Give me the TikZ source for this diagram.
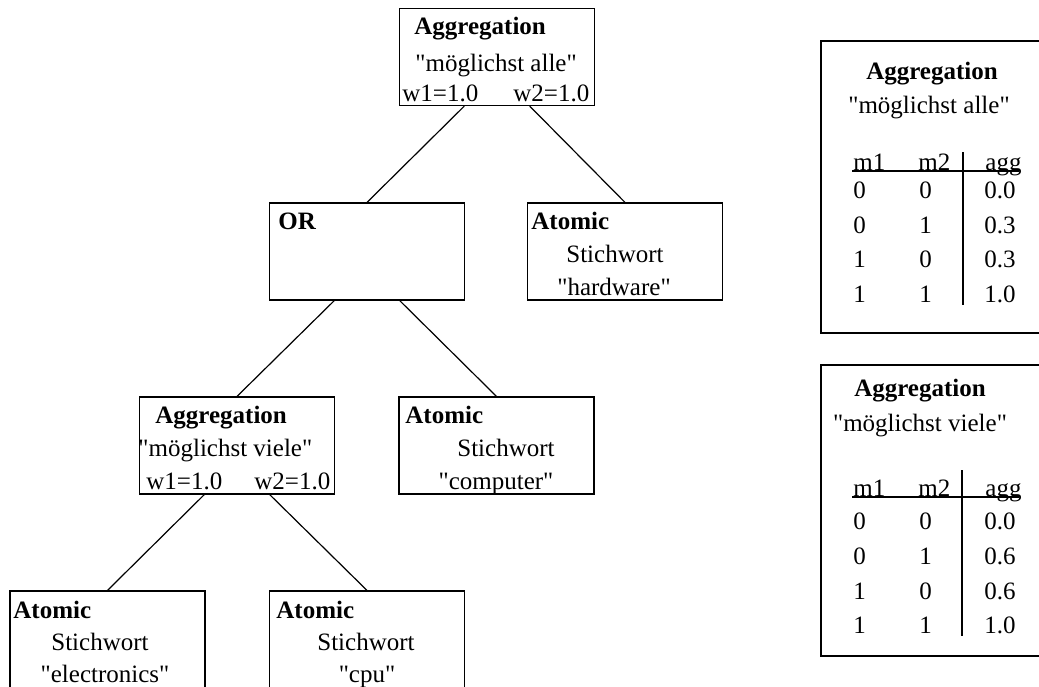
\documentclass[tikz,border=0pt]{standalone}
\usepackage{fontspec}
\setmainfont{Liberation Serif}
% family without TeX ligature mapping, so " stays a straight quote
\newfontfamily\plainserif{Liberation Serif}
\usetikzlibrary{calc}
\begin{document}
\begin{tikzpicture}[x=0.5pt,y=-0.5pt,
  font=\plainserif\fontsize{12.5}{15}\selectfont,
  box/.style={draw,line width=0.6pt,minimum width=97.5pt,minimum height=48.5pt,inner sep=0pt},
  panel/.style={draw,line width=0.6pt},
  txt/.style={inner sep=0pt,anchor=base west},
  ctxt/.style={inner sep=0pt,anchor=base},
  head/.style={txt,font=\plainserif\fontsize{12.5}{15}\selectfont\bfseries},
  chead/.style={ctxt,font=\plainserif\fontsize{12.5}{15}\selectfont\bfseries},
  edge/.style={line width=0.6pt}]
\useasboundingbox (0,0) rectangle (1039,686);

% tree boxes
\node[box] (top)  at (497,57)    {};
\node[box] (or)   at (367,251.5) {};
\node[box] (hw)   at (625,251.5) {};
\node[box] (agg)  at (237,445.5) {};
\node[box] (comp) at (496.5,445.5) {};
\node[box] (elec) at (107.5,639.5) {};
\node[box] (cpu)  at (367,639.5) {};

% top aggregation
\node[head] (topA) at (414,34) {Aggregation};
\node[txt]  (topB) at (415,71) {"möglichst alle"};
\node[txt]  (topC) at (402,101) {w1=1.0};
\node[txt]  (topD) at (513,101) {w2=1.0};

% OR
\node[head] (orA) at (278,229) {OR};

% atomic hardware
\node[head] (hwA) at (531,229) {Atomic};
\node[ctxt] (hwB) at (615,262) {Stichwort};
\node[ctxt] (hwC) at (614,295) {"hardware"};

% aggregation viele
\node[head] (aggA) at (155,423) {Aggregation};
\node[txt]  (aggB) at (138,456) {"möglichst viele"};
\node[txt]  (aggC) at (146,489) {w1=1.0};
\node[txt]  (aggD) at (254,489) {w2=1.0};

% atomic computer
\node[head] (compA) at (405,423) {Atomic};
\node[ctxt] (compB) at (506,456) {Stichwort};
\node[ctxt] (compC) at (496,489) {"computer"};

% atomic electronics
\node[head] (elecA) at (13,618) {Atomic};
\node[ctxt] (elecB) at (100,650) {Stichwort};
\node[ctxt] (elecC) at (105,682) {"electronics"};

% atomic cpu
\node[head] (cpuA) at (276,618) {Atomic};
\node[ctxt] (cpuB) at (366,650) {Stichwort};
\node[ctxt] (cpuC) at (367,682) {"cpu"};

% tree edges
\draw[edge] ($(top.south west)!1/3!(top.south east)$) -- (or.north);
\draw[edge] ($(top.south west)!2/3!(top.south east)$) -- (hw.north);
\draw[edge] ($(or.south west)!1/3!(or.south east)$) -- (agg.north);
\draw[edge] ($(or.south west)!2/3!(or.south east)$) -- (comp.north);
\draw[edge] ($(agg.south west)!1/3!(agg.south east)$) -- (elec.north);
\draw[edge] ($(agg.south west)!2/3!(agg.south east)$) -- (cpu.north);

% truth table: moeglichst alle
\draw[panel] (1045,41) -- (821,41) -- (821,333) -- (1045,333);
\node[chead] (t1A) at (932,79) {Aggregation};
\node[ctxt]  (t1B) at (929,113) {"möglichst alle"};
\node[txt] (t1h1) at (853,170) {m1};
\node[txt] (t1h2) at (918,170) {m2};
\node[txt] (t1h3) at (985,170) {agg};
\draw[edge] (852,171) -- (1019,171);
\draw[edge] (963,152) -- (963,305);
\foreach \a/\b/\c/\y/\n in {0/0/0.0/198/1,0/1/0.3/233/2,1/0/0.3/267/3,1/1/1.0/302/4}{
  \node[txt] (t1r\n a) at (853,\y) {\a};
  \node[txt] (t1r\n b) at (919,\y) {\b};
  \node[txt] (t1r\n c) at (984,\y) {\c};
}

% truth table: moeglichst viele
\draw[panel] (1045,365) -- (821,365) -- (821,656) -- (1045,656);
\node[chead] (t2A) at (920,396) {Aggregation};
\node[ctxt]  (t2B) at (920,431) {"möglichst viele"};
\node[txt] (t2h1) at (853,496) {m1};
\node[txt] (t2h2) at (918,496) {m2};
\node[txt] (t2h3) at (985,496) {agg};
\draw[edge] (852,497) -- (1019,497);
\draw[edge] (962,470) -- (962,636);
\foreach \a/\b/\c/\y/\n in {0/0/0.0/529/1,0/1/0.6/564/2,1/0/0.6/599/3,1/1/1.0/633/4}{
  \node[txt] (t2r\n a) at (853,\y) {\a};
  \node[txt] (t2r\n b) at (919,\y) {\b};
  \node[txt] (t2r\n c) at (984,\y) {\c};
}
\end{tikzpicture}
\end{document}
